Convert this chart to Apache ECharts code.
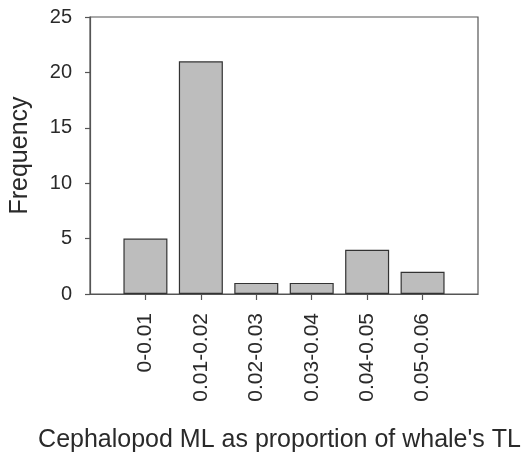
<!DOCTYPE html>
<html lang="en">
<head>
    <meta charset="UTF-8">
    <title>Cephalopod ML histogram</title>
    <script src="https://cdn.jsdelivr.net/npm/echarts@6/dist/echarts.min.js"></script>
    <style>
        html, body { margin: 0; padding: 0; background: #fff; }
        #main { width: 524px; height: 459px; }
    </style>
</head>
<body>
    <div id="main"></div>
    <script>
        // bins and counts
        var categories = ['0-0.01', '0.01-0.02', '0.02-0.03', '0.03-0.04', '0.04-0.05', '0.05-0.06'];
        var counts = [5, 21, 1, 1, 4, 2];
        var yTicks = [0, 5, 10, 15, 20, 25];

        // pad one empty slot each side so the bins sit at 1..6 of a 0..7 axis
        var axisCats = [''].concat(categories, ['']);
        var barData = ['-'].concat(counts, ['-']);

        var font = 'Liberation Sans, Arial, sans-serif';
        var ink = '#2a2a2a';
        var myChart = echarts.init(document.getElementById('main'));

        var option = {
            backgroundColor: '#fff',
            animation: false,
            grid: {
                left: 90,
                right: 46,
                top: 17,
                bottom: 165,
                containLabel: false,
                outerBoundsMode: 'none',
                show: true,
                borderColor: '#555',
                borderWidth: 1.2
            },
            xAxis: {
                type: 'category',
                data: axisCats,
                boundaryGap: false,
                name: "Cephalopod ML as proportion of whale's TL",
                nameLocation: 'middle',
                nameGap: 134,
                // nudge a few px left, title sits slightly off the plot centre
                nameTextStyle: { fontFamily: font, fontSize: 25, color: ink, padding: [0, 9, 0, 0] },
                axisLine: { lineStyle: { color: '#555', width: 1.2 } },
                axisTick: {
                    length: 6,
                    interval: function (idx) { return idx > 0 && idx < axisCats.length - 1; },
                    lineStyle: { color: '#555', width: 1.2 }
                },
                axisLabel: {
                    interval: 0,
                    rotate: 90,
                    margin: 19,
                    fontFamily: font,
                    fontSize: 21,
                    color: ink
                },
                splitLine: { show: false }
            },
            yAxis: {
                type: 'value',
                min: yTicks[0],
                max: yTicks[yTicks.length - 1],
                interval: 5,
                name: 'Frequency',
                nameLocation: 'middle',
                nameGap: 57,
                nameTextStyle: { fontFamily: font, fontSize: 25, color: ink },
                axisLine: { show: true, lineStyle: { color: '#555', width: 1.2 } },
                axisTick: { show: true, length: 5, lineStyle: { color: '#555', width: 1.2 } },
                axisLabel: { margin: 18, fontFamily: font, fontSize: 20, color: ink },
                splitLine: { show: false }
            },
            series: [{
                type: 'bar',
                data: barData,
                barWidth: 44,
                itemStyle: {
                    color: '#bdbdbd',
                    borderColor: '#333',
                    borderWidth: 1.2
                }
            }]
        };
        myChart.setOption(option);
    </script>
</body>
</html>
